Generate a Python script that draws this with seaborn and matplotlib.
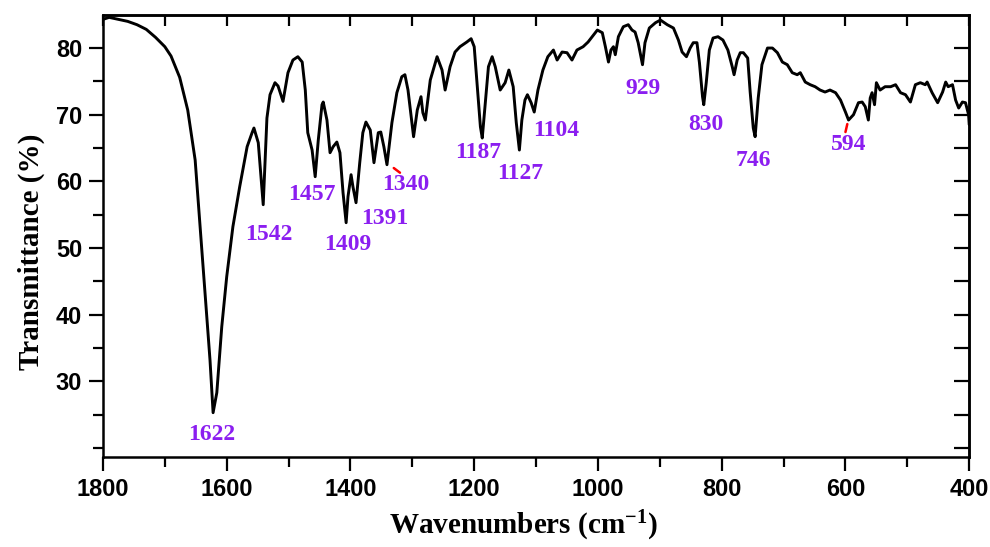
import matplotlib
matplotlib.use("Agg")
import matplotlib.pyplot as plt
from matplotlib.ticker import MultipleLocator
import seaborn as sns
import pandas as pd

# FTIR spectrum: wavenumber (cm^-1) and transmittance (%)
wavenumber = [
    1800, 1790, 1775, 1760, 1745, 1730, 1715, 1700, 1690, 1676,
    1663, 1651, 1643, 1635, 1627, 1622, 1616, 1608, 1600, 1590,
    1579, 1567, 1559, 1556, 1549, 1541, 1535, 1530, 1522, 1517,
    1509, 1501, 1493, 1485, 1478, 1473, 1469, 1462, 1457, 1452,
    1446, 1444, 1438, 1433, 1428, 1422, 1417, 1412, 1407, 1404,
    1399, 1396, 1391, 1385, 1380, 1375, 1368, 1362, 1355, 1351,
    1346, 1341, 1333, 1325, 1317, 1312, 1307, 1300, 1298, 1292,
    1286, 1283, 1279, 1271, 1260, 1252, 1247, 1239, 1231, 1223,
    1212, 1205, 1200, 1195, 1190, 1187, 1182, 1177, 1171, 1166,
    1158, 1150, 1144, 1137, 1132, 1127, 1123, 1118, 1114, 1108,
    1103, 1097, 1089, 1081, 1072, 1066, 1058, 1050, 1042, 1034,
    1024, 1016, 1001, 993, 988, 983, 979, 975, 972, 967,
    959, 951, 945, 940, 935, 928, 924, 917, 907, 899,
    888, 878, 870, 864, 857, 851, 846, 840, 836, 831,
    829, 825, 820, 814, 806, 798, 790, 783, 780, 775,
    770, 765, 758, 754, 749, 746, 741, 735, 726, 718,
    710, 702, 694, 686, 678, 673, 665, 657, 649, 641,
    633, 625, 616, 608, 600, 595, 587, 579, 573, 568,
    563, 560, 557, 553, 550, 544, 536, 527, 519, 511,
    503, 495, 487, 479, 471, 468, 460, 451, 443, 438,
    434, 427, 422, 417, 411, 406, 401, 400,
]
transmittance = [
    84.3, 84.6, 84.3, 84.0, 83.5, 82.8, 81.6, 80.2, 78.8, 75.6,
    70.7, 63.2, 53.2, 43.3, 33.2, 25.3, 28.3, 38.2, 45.7, 53.2,
    59.2, 65.2, 67.3, 68.0, 65.8, 56.5, 69.5, 73.0, 74.8, 74.3,
    72.0, 76.3, 78.2, 78.7, 77.9, 73.7, 67.3, 64.7, 60.7, 66.2,
    71.5, 71.9, 69.2, 64.3, 65.2, 65.9, 64.3, 58.3, 53.8, 57.7,
    61.0, 59.2, 56.8, 62.8, 67.3, 68.9, 67.7, 62.8, 67.3, 67.4,
    65.2, 62.5, 68.8, 73.3, 75.7, 76.0, 73.7, 68.2, 66.7, 70.7,
    72.7, 70.3, 69.2, 75.2, 78.7, 76.7, 73.7, 77.2, 79.4, 80.2,
    80.9, 81.4, 80.2, 74.2, 68.2, 66.5, 71.8, 77.2, 78.7, 77.2,
    73.7, 74.8, 76.7, 74.2, 68.8, 64.7, 69.2, 72.2, 73.0, 71.8,
    70.4, 73.7, 76.7, 78.7, 79.7, 78.2, 79.4, 79.3, 78.2, 79.7,
    80.2, 80.9, 82.7, 82.3, 80.2, 77.9, 79.7, 80.2, 79.0, 81.7,
    83.2, 83.5, 82.7, 82.4, 80.8, 77.5, 80.8, 83.0, 83.8, 84.2,
    83.5, 83.0, 81.2, 79.4, 78.7, 80.0, 80.8, 80.8, 77.8, 72.7,
    71.5, 74.8, 79.7, 81.5, 81.7, 81.2, 79.7, 77.2, 76.0, 78.2,
    79.3, 79.3, 78.5, 73.4, 68.0, 66.7, 72.5, 77.5, 80.0, 80.0,
    79.3, 77.9, 77.5, 76.3, 76.0, 76.3, 74.9, 74.5, 74.2, 73.7,
    73.4, 73.7, 73.3, 72.2, 70.4, 69.2, 70.0, 71.8, 71.9, 71.2,
    69.2, 72.5, 73.3, 71.5, 74.8, 73.7, 74.2, 74.2, 74.5, 73.3,
    73.0, 71.9, 74.5, 74.8, 74.5, 74.9, 73.3, 71.8, 73.4, 74.9,
    74.2, 74.5, 72.2, 71.0, 71.9, 71.8, 70.0, 68.5,
]

# Band assignments: label, label position (wavenumber, transmittance)
band_labels = ["1622", "1542", "1457", "1409", "1391", "1340", "1187",
               "1127", "1104", "929", "830", "746", "594"]
label_wn = [1624, 1532, 1462, 1404, 1345, 1310, 1193,
            1125, 1067, 928, 825, 749, 595]
label_t = [22.0, 52.0, 58.0, 50.6, 54.5, 59.5, 64.4,
           61.2, 67.7, 74.0, 68.5, 63.2, 65.5]

# Short red leader marks (x0, x1, y0, y1)
leader_wn = [(1330, 1320), (600, 597)]
leader_t = [(62.0, 61.3), (67.4, 68.6)]

spectrum = pd.DataFrame({"wavenumber": wavenumber, "transmittance": transmittance})

sns.set_style("ticks")
plt.rcParams["font.family"] = ["Liberation Sans", "DejaVu Sans"]
plt.rcParams["mathtext.fontset"] = "custom"
plt.rcParams["mathtext.rm"] = "Liberation Serif:bold"
plt.rcParams["mathtext.it"] = "Liberation Serif:bold"
plt.rcParams["mathtext.bf"] = "Liberation Serif:bold"
plt.rcParams["text.color"] = "black"
plt.rcParams["axes.labelcolor"] = "black"
plt.rcParams["xtick.color"] = "black"
plt.rcParams["ytick.color"] = "black"
plt.rcParams["axes.edgecolor"] = "black"

fig = plt.figure(figsize=(9.9, 5.47), dpi=100)
ax = fig.add_axes([0.104, 0.1645, 0.875, 0.808])

sns.lineplot(data=spectrum, x="wavenumber", y="transmittance", sort=False,
             color="black", linewidth=2.1, ax=ax)
for line in ax.get_lines():
    line.set_solid_joinstyle("round")

ax.set_xlim(1800, 400)
ax.set_ylim(18.65, 84.95)

ax.xaxis.set_major_locator(MultipleLocator(200))
ax.xaxis.set_minor_locator(MultipleLocator(100))
ax.set_yticks([30, 40, 50, 60, 70, 80])
ax.yaxis.set_minor_locator(MultipleLocator(5))

ax.tick_params(axis="both", which="major", direction="out", length=10, width=1.6,
               labelsize=17, pad=5, colors="black", bottom=True, left=True)
ax.tick_params(axis="both", which="minor", direction="out", length=7, width=1.6,
               colors="black", bottom=True, left=True)
for lab in ax.get_xticklabels() + ax.get_yticklabels():
    lab.set_fontweight("bold")
    lab.set_fontfamily("Liberation Sans")

for side in ["left", "bottom", "top", "right"]:
    ax.spines[side].set_visible(True)
    ax.spines[side].set_linewidth(1.8)
    ax.spines[side].set_color("black")

# Inward ticks on the top and right frame
top = ax.secondary_xaxis("top")
top.xaxis.set_major_locator(MultipleLocator(100))
top.tick_params(direction="in", length=8, width=1.6, labeltop=False, colors="black")
top.spines["top"].set_linewidth(1.8)
right = ax.secondary_yaxis("right")
right.yaxis.set_major_locator(MultipleLocator(5))
right.tick_params(direction="in", length=11, width=1.6, labelright=False, colors="black")
right.spines["right"].set_linewidth(1.8)

ax.set_xlabel("Wavenumbers (cm$^{-1}$)", family="Liberation Serif",
              fontweight="bold", fontsize=21, labelpad=6, color="black")
ax.set_ylabel("Transmittance (%)", family="Liberation Serif",
              fontweight="bold", fontsize=21, labelpad=8, color="black")
ax.xaxis.label.set_x(0.485)
ax.yaxis.label.set_y(0.465)

purple = "#8b1ef0"
for lab, x, y in zip(band_labels, label_wn, label_t):
    ax.text(x, y, lab, color=purple, fontsize=17, fontweight="bold",
            family="Liberation Serif", ha="center", va="center")

for (x0, x1), (y0, y1) in zip(leader_wn, leader_t):
    ax.plot([x0, x1], [y0, y1], color="red", linewidth=1.8)

fig.savefig("out.png", dpi=100, facecolor="white")
